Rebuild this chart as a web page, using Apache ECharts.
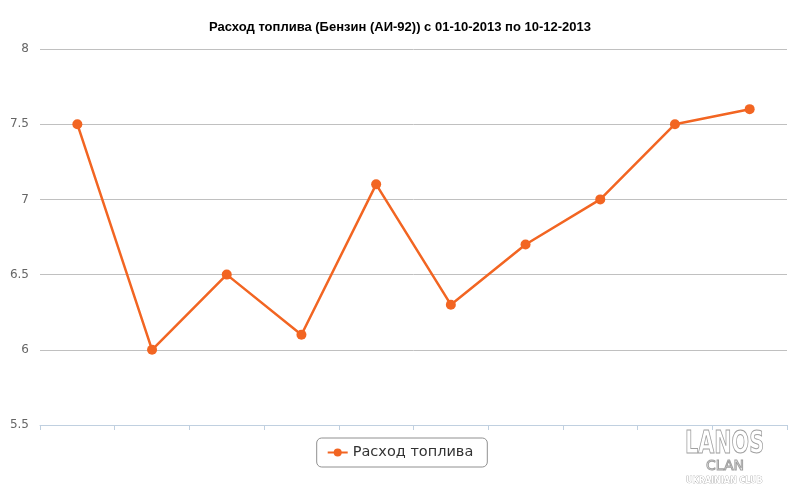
<!DOCTYPE html>
<html>
<head>
<meta charset="utf-8">
<script src="https://cdn.jsdelivr.net/npm/echarts@6/dist/echarts.min.js"></script>
<style>
  html, body { margin: 0; padding: 0; background: #fff; }
  #chart { width: 800px; height: 486px; }
</style>
</head>
<body>
<div id="chart"></div>
<script>
// fill-ups between 01-10-2013 and 10-12-2013 (x labels are not shown on the chart)
const categories = ['1', '2', '3', '4', '5', '6', '7', '8', '9', '10'];
const fuelUse = [7.5, 6.0, 6.5, 6.1, 7.1, 6.3, 6.7, 7.0, 7.5, 7.6];
const yTicks = { min: 5.5, max: 8, step: 0.5 };

const chart = echarts.init(document.getElementById('chart'));

chart.setOption({
  backgroundColor: '#fff',
  animation: false,
  title: {
    text: 'Расход топлива (Бензин (АИ-92)) с 01-10-2013 по 10-12-2013',
    left: 'center',
    top: 16,
    textStyle: {
      fontFamily: 'Liberation Sans, Arial, sans-serif',
      fontSize: 13,
      fontWeight: 'bold',
      color: '#000',
    },
  },
  legend: {
    data: ['Расход топлива'],
    bottom: 19,
    left: 'center',
    itemWidth: 20,
    itemHeight: 10,
    itemGap: 6,
    padding: [7, 14, 7, 10],
    borderColor: '#909090',
    borderWidth: 1,
    borderRadius: 5,
    textStyle: {
      fontFamily: 'DejaVu Sans, sans-serif',
      fontSize: 14.5,
      color: '#333',
    },
  },
  grid: {
    left: 40,
    right: 13,
    top: 49,
    bottom: 61,
  },
  xAxis: {
    type: 'category',
    data: categories,
    boundaryGap: true,
    axisLine: { show: true, onZero: false, lineStyle: { color: '#C0D0E0', width: 1 } },
    axisTick: { show: true, length: 5, lineStyle: { color: '#C0D0E0' } },
    axisLabel: { show: false },
    z: 5,
  },
  yAxis: {
    type: 'value',
    min: yTicks.min,
    max: yTicks.max,
    interval: yTicks.step,
    axisLine: { show: false },
    axisTick: { show: false },
    axisLabel: {
      margin: 11,
      color: '#666',
      fontSize: 12,
      fontFamily: 'DejaVu Sans, sans-serif',
    },
    splitLine: { lineStyle: { color: '#C0C0C0', width: 1 } },
  },
  series: [
    {
      name: 'Расход топлива',
      type: 'line',
      data: fuelUse,
      symbol: 'circle',
      symbolSize: 10,
      lineStyle: { color: '#F26522', width: 2.5 },
      itemStyle: { color: '#F26522' },
    },
  ],
  graphic: [
    {
      type: 'text',
      x: 685,
      y: 429,
      scaleX: 0.72,
      style: {
        text: 'LANOS',
        fontSize: 32,
        fontWeight: 'bold',
        fontFamily: 'DejaVu Sans Condensed, sans-serif',
        fill: 'rgba(255,255,255,0)',
        stroke: '#a0a0a0',
        lineWidth: 1,
      },
    },
    {
      type: 'text',
      x: 706,
      y: 459,
      style: {
        text: 'CLAN',
        fontSize: 14,
        fontFamily: 'DejaVu Sans, sans-serif',
        fill: 'rgba(255,255,255,0)',
        stroke: '#a0a0a0',
        lineWidth: 1,
      },
    },
    {
      type: 'text',
      x: 686,
      y: 477,
      style: {
        text: 'UKRAINIAN CLUB',
        fontSize: 8,
        fontWeight: 'bold',
        fontFamily: 'DejaVu Sans, sans-serif',
        fill: '#fff',
        stroke: '#999',
        lineWidth: 0.6,
      },
    },
  ],
});
</script>
</body>
</html>
